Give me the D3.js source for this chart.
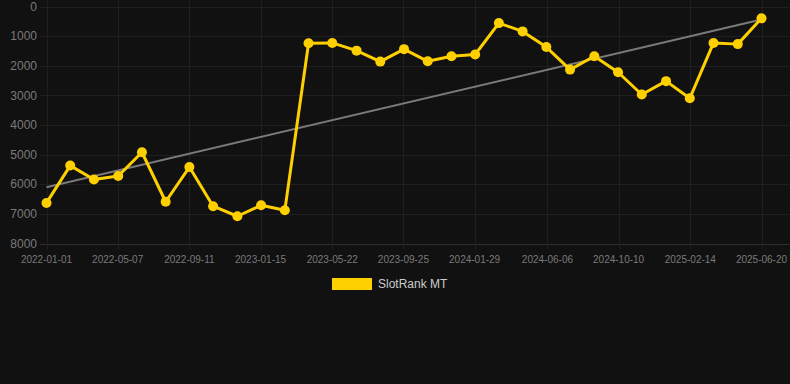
<!DOCTYPE html>
<html><head><meta charset="utf-8">
<script src="https://cdn.jsdelivr.net/npm/d3@7"></script>
<style>
html,body{margin:0;padding:0;background:#111111;}
svg{display:block;}
</style></head>
<body>
<svg id="chart" width="790" height="384"></svg>
<script>
const dates = ["2022-01-01","2022-02-12","2022-03-26","2022-05-08","2022-06-19","2022-07-31","2022-09-11","2022-10-23","2022-12-05","2023-01-16","2023-02-27","2023-04-10","2023-05-22","2023-07-04","2023-08-15","2023-09-26","2023-11-07","2023-12-19","2024-01-30","2024-03-12","2024-04-23","2024-06-04","2024-07-16","2024-08-28","2024-10-09","2024-11-20","2025-01-02","2025-02-13","2025-03-27","2025-05-09","2025-06-20"];
const ranks = [6630,5370,5840,5720,4920,6590,5420,6740,7080,6710,6880,1240,1230,1490,1860,1440,1850,1680,1620,560,840,1370,2130,1680,2220,2970,2520,3100,1230,1270,400];
const trendValues = [6100,440];
const xTickLabels = ["2022-01-01","2022-05-07","2022-09-11","2023-01-15","2023-05-22","2023-09-25","2024-01-29","2024-06-06","2024-10-10","2025-02-14","2025-06-20"];
const yTicks = [0,1000,2000,3000,4000,5000,6000,7000,8000];
const seriesName = "SlotRank MT";

(function(){
const parse = d3.utcParse("%Y-%m-%d");
const data = dates.map((d,i)=>({date:parse(d), v:ranks[i]}));
const svg = d3.select("#chart");
const mLeft = 46.5, mRight = 761.5, mTop = 6.5, mBottom = 243.5;

const x = d3.scaleUtc().domain([parse(dates[0]), parse(dates[dates.length-1])]).range([mLeft,mRight]);
const y = d3.scaleLinear().domain([0,8000]).range([mTop,mBottom]);

const g = svg.append("g");
g.selectAll("line.h").data(yTicks).join("line")
  .attr("x1",40).attr("x2",789).attr("y1",d=>Math.round(y(d))+0.5).attr("y2",d=>Math.round(y(d))+0.5)
  .attr("stroke",d=>d===8000?"#2e2e2e":"#1f1f1f").attr("stroke-width",1);
g.selectAll("line.v").data(xTickLabels).join("line")
  .attr("x1",d=>Math.round(x(parse(d)))+0.5).attr("x2",d=>Math.round(x(parse(d)))+0.5)
  .attr("y1",0).attr("y2",mBottom+6)
  .attr("stroke","#1f1f1f").attr("stroke-width",1);

svg.append("g").selectAll("text").data(yTicks).join("text")
  .attr("x",37).attr("y",d=>y(d)).attr("dy","0.35em")
  .attr("text-anchor","end").attr("fill","#7a7a7a")
  .attr("font-family","Liberation Sans, Arial, sans-serif").attr("font-size",12)
  .text(d=>d);

svg.append("g").selectAll("text").data(xTickLabels).join("text")
  .attr("x",d=>x(parse(d))).attr("y",259).attr("dy","0.35em")
  .attr("text-anchor","middle").attr("fill","#7a7a7a")
  .attr("font-family","Liberation Sans, Arial, sans-serif").attr("font-size",10)
  .text(d=>d);

svg.append("line")
  .attr("x1",x(data[0].date)).attr("y1",y(trendValues[0]))
  .attr("x2",x(data[data.length-1].date)).attr("y2",y(trendValues[1]))
  .attr("stroke","#7a7a7a").attr("stroke-width",2);

const line = d3.line().x(d=>x(d.date)).y(d=>y(d.v));
svg.append("path").datum(data).attr("d",line)
  .attr("fill","none").attr("stroke","#FFD000").attr("stroke-width",3).attr("stroke-linejoin","round");
svg.append("g").selectAll("circle").data(data).join("circle")
  .attr("cx",d=>x(d.date)).attr("cy",d=>y(d.v)).attr("r",5)
  .attr("fill","#FFD000");

svg.append("rect").attr("x",332).attr("y",278).attr("width",40).attr("height",12).attr("fill","#FFD000");
svg.append("text").attr("x",378).attr("y",284).attr("dy","0.35em")
  .attr("fill","#cccccc").attr("font-family","Liberation Sans, Arial, sans-serif").attr("font-size",12)
  .text(seriesName);
})();
</script>
</body></html>
